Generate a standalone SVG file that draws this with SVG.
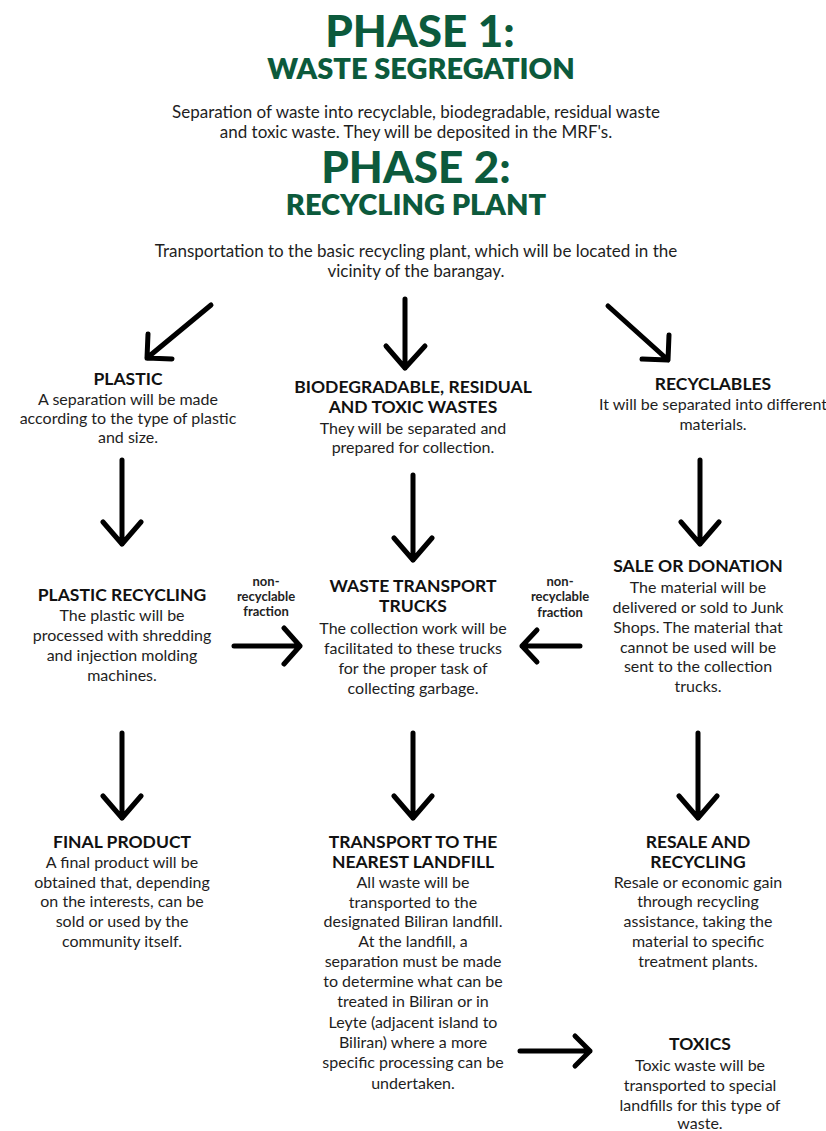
<svg xmlns="http://www.w3.org/2000/svg" width="826" height="1131" viewBox="0 0 826 1131">
<style>
.t1{font-family:Lato,"Noto Sans",sans-serif;font-weight:900;fill:#0c5a3c;text-anchor:middle}
.t2{font-family:Lato,"Noto Sans",sans-serif;font-weight:800;fill:#0c5a3c;text-anchor:middle}
.intro{font-family:Lato,"Noto Sans",sans-serif;font-size:17px;fill:#1e1e1e;text-anchor:middle}
.h{font-family:Lato,"Noto Sans",sans-serif;font-weight:700;font-size:17.5px;fill:#111;text-anchor:middle}
.b{font-family:Lato,"Noto Sans",sans-serif;font-size:16px;fill:#1e1e1e;text-anchor:middle}
.s{font-family:Lato,"Noto Sans",sans-serif;font-weight:700;font-size:13px;fill:#222;text-anchor:middle}
.arr{fill:none;stroke:#000;stroke-width:5;stroke-linecap:round;stroke-linejoin:round}
</style>
<rect width="826" height="1131" fill="#fff"/>
<g id="phase1">
<text class="t1" x="420" y="47" font-size="44">PHASE 1:</text>
<text class="t2" x="421" y="79" font-size="29">WASTE SEGREGATION</text>
<text class="intro" x="416" y="118">Separation of waste into recyclable, biodegradable, residual waste</text>
<text class="intro" x="416" y="138">and toxic waste. They will be deposited in the MRF's.</text>
</g>
<g id="phase2">
<text class="t1" x="416" y="183" font-size="44">PHASE 2:</text>
<text class="t2" x="416" y="215" font-size="29">RECYCLING PLANT</text>
<text class="intro" x="416" y="257">Transportation to the basic recycling plant, which will be located in the</text>
<text class="intro" x="416" y="277">vicinity of the barangay.</text>
</g>
<g id="plastic">
<text class="h" x="128" y="385">PLASTIC</text>
<text class="b" x="128" y="405">A separation will be made</text>
<text class="b" x="128" y="424">according to the type of plastic</text>
<text class="b" x="128" y="443">and size.</text>
</g>
<g id="biodegradable">
<text class="h" x="413" y="393">BIODEGRADABLE, RESIDUAL</text>
<text class="h" x="413" y="413">AND TOXIC WASTES</text>
<text class="b" x="413" y="434">They will be separated and</text>
<text class="b" x="413" y="453">prepared for collection.</text>
</g>
<g id="recyclables">
<text class="h" x="713" y="390">RECYCLABLES</text>
<text class="b" x="713" y="410">It will be separated into different</text>
<text class="b" x="713" y="430">materials.</text>
</g>
<g id="plastic-recycling">
<text class="h" x="122" y="601">PLASTIC RECYCLING</text>
<text class="b" x="122" y="621">The plastic will be</text>
<text class="b" x="122" y="641">processed with shredding</text>
<text class="b" x="122" y="661">and injection molding</text>
<text class="b" x="122" y="681">machines.</text>
</g>
<g id="waste-transport-trucks">
<text class="h" x="413" y="592">WASTE TRANSPORT</text>
<text class="h" x="413" y="612">TRUCKS</text>
<text class="b" x="413" y="634">The collection work will be</text>
<text class="b" x="413" y="654">facilitated to these trucks</text>
<text class="b" x="413" y="674">for the proper task of</text>
<text class="b" x="413" y="694">collecting garbage.</text>
</g>
<g id="sale-or-donation">
<text class="h" x="698" y="572">SALE OR DONATION</text>
<text class="b" x="698" y="593">The material will be</text>
<text class="b" x="698" y="613">delivered or sold to Junk</text>
<text class="b" x="698" y="633">Shops. The material that</text>
<text class="b" x="698" y="653">cannot be used will be</text>
<text class="b" x="698" y="672">sent to the collection</text>
<text class="b" x="698" y="692">trucks.</text>
</g>
<g id="final-product">
<text class="h" x="122" y="848">FINAL PRODUCT</text>
<text class="b" x="122" y="868">A final product will be</text>
<text class="b" x="122" y="888">obtained that, depending</text>
<text class="b" x="122" y="907">on the interests, can be</text>
<text class="b" x="122" y="927">sold or used by the</text>
<text class="b" x="122" y="947">community itself.</text>
</g>
<g id="landfill">
<text class="h" x="413" y="848">TRANSPORT TO THE</text>
<text class="h" x="413" y="868">NEAREST LANDFILL</text>
<text class="b" x="413" y="888">All waste will be</text>
<text class="b" x="413" y="908">transported to the</text>
<text class="b" x="413" y="927">designated Biliran landfill.</text>
<text class="b" x="413" y="947">At the landfill, a</text>
<text class="b" x="413" y="967">separation must be made</text>
<text class="b" x="413" y="987">to determine what can be</text>
<text class="b" x="413" y="1007">treated in Biliran or in</text>
<text class="b" x="413" y="1028">Leyte (adjacent island to</text>
<text class="b" x="413" y="1048">Biliran) where a more</text>
<text class="b" x="413" y="1068">specific processing can be</text>
<text class="b" x="413" y="1089">undertaken.</text>
</g>
<g id="resale">
<text class="h" x="698" y="848">RESALE AND</text>
<text class="h" x="698" y="868">RECYCLING</text>
<text class="b" x="698" y="888">Resale or economic gain</text>
<text class="b" x="698" y="907">through recycling</text>
<text class="b" x="698" y="927">assistance, taking the</text>
<text class="b" x="698" y="947">material to specific</text>
<text class="b" x="698" y="967">treatment plants.</text>
</g>
<g id="toxics">
<text class="h" x="700" y="1050">TOXICS</text>
<text class="b" x="700" y="1071">Toxic waste will be</text>
<text class="b" x="700" y="1091">transported to special</text>
<text class="b" x="700" y="1111">landfills for this type of</text>
<text class="b" x="700" y="1129">waste.</text>
</g>
<g id="connectors">
<path class="arr" d="M211 305 L147 358 M148 334 L147 358 L172 359"/>
<path class="arr" d="M405 299 L405 368 M386 346 L405 368 L425 346"/>
<path class="arr" d="M608 306 L668 360 M669 335 L668 360 L642 359"/>
<path class="arr" d="M122 460 L122 544 M103 522 L122 544 L141 522"/>
<path class="arr" d="M413 475 L413 560 M394 538 L413 560 L432 538"/>
<path class="arr" d="M700 460 L700 544 M681 522 L700 544 L719 522"/>
<path class="arr" d="M234 646 L300 646 M284 628 L300 646 L284 664"/>
<path class="arr" d="M580 646 L522 646 M537 630 L522 646 L537 662"/>
<path class="arr" d="M122 733 L122 818 M103 796 L122 818 L141 796"/>
<path class="arr" d="M413 733 L413 818 M394 796 L413 818 L432 796"/>
<path class="arr" d="M698 733 L698 818 M679 796 L698 818 L717 796"/>
<path class="arr" d="M520 1051 L590 1051 M575 1036 L590 1051 L575 1066"/>
<text class="s" x="266" y="586">non-</text>
<text class="s" x="266" y="601">recyclable</text>
<text class="s" x="266" y="616">fraction</text>
<text class="s" x="560" y="586">non-</text>
<text class="s" x="560" y="601">recyclable</text>
<text class="s" x="560" y="617">fraction</text>
</g>
</svg>
